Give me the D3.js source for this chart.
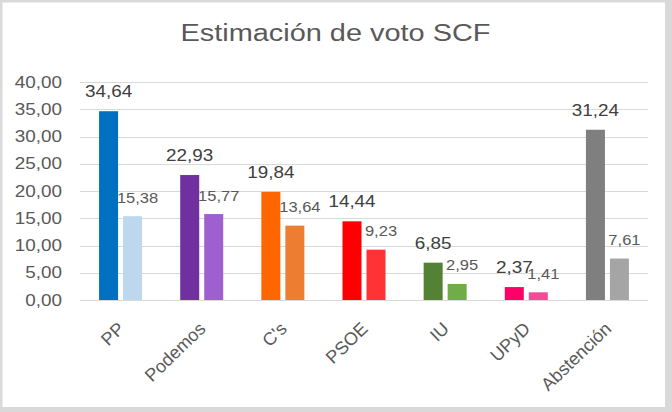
<!DOCTYPE html>
<html>
<head>
<meta charset="utf-8">
<script src="https://cdn.jsdelivr.net/npm/d3@7"></script>
<style>
  body { margin: 0; background: #fff; }
  text { font-family: "Liberation Sans", Arial, sans-serif; }
</style>
</head>
<body>
<script>
var categories = ["PP", "Podemos", "C's", "PSOE", "IU", "UPyD", "Abstención"];
var serieA = [34.64, 22.93, 19.84, 14.44, 6.85, 2.37, 31.24];
var serieB = [15.38, 15.77, 13.64, 9.23, 2.95, 1.41, 7.61];
var coloresA = ["#0070c0", "#7030a0", "#ff6600", "#ff0000", "#548235", "#ff0066", "#7f7f7f"];
var coloresB = ["#bdd7ee", "#9e5fcf", "#ed7d31", "#ff3333", "#70ad47", "#f34b96", "#a5a5a5"];
var yTicks = [0, 5, 10, 15, 20, 25, 30, 35, 40];

var W = 672, H = 412;
var stretch = 1.18; // the original text is a bit wider than tall

var fmt = function(v){ return d3.format(".2f")(v).replace(".", ","); };

var svg = d3.select("body").append("svg").attr("width", W).attr("height", H);

// frame
svg.append("rect").attr("width", W).attr("height", H).attr("fill", "#d9d9d9");
svg.append("rect").attr("x", 2.5).attr("y", 2.5).attr("width", 662.5).attr("height", 404.5).attr("fill", "#fff");

svg.append("text")
  .attr("transform", "translate(335.5,41) scale(" + stretch + ",1)")
  .attr("text-anchor", "middle")
  .attr("font-size", 24.5)
  .attr("fill", "#595959")
  .text("Estimación de voto SCF");

var y = d3.scaleLinear().domain([0, 40]).range([300, 82]);
var x0 = d3.scaleBand().domain(categories).range([80, 648]).paddingInner(0.47).paddingOuter(0.235);
var x1 = d3.scaleBand().domain([0, 1]).range([0, x0.bandwidth()]).paddingInner(5 / 24);

// grid
svg.selectAll("line.grid")
  .data(yTicks)
  .enter().append("line")
    .attr("class", "grid")
    .attr("x1", 80).attr("x2", 648)
    .attr("y1", function(d){ return Math.round(y(d)) + 0.5; })
    .attr("y2", function(d){ return Math.round(y(d)) + 0.5; })
    .attr("stroke", "#d9d9d9")
    .attr("stroke-width", 1);

svg.selectAll("text.ytick")
  .data(yTicks)
  .enter().append("text")
    .attr("class", "ytick")
    .attr("transform", function(d){ return "translate(62," + (y(d) + 5.7) + ") scale(" + stretch + ",1)"; })
    .attr("text-anchor", "end")
    .attr("font-size", 16)
    .attr("fill", "#595959")
    .text(fmt);

// bars
var groups = svg.selectAll("g.grupo")
  .data(categories)
  .enter().append("g")
    .attr("class", "grupo")
    .attr("transform", function(d){ return "translate(" + x0(d) + ",0)"; });

groups.append("rect")
  .attr("x", x1(0))
  .attr("width", x1.bandwidth())
  .attr("y", function(d, i){ return y(serieA[i]); })
  .attr("height", function(d, i){ return y(0) - y(serieA[i]); })
  .attr("fill", function(d, i){ return coloresA[i]; });

groups.append("rect")
  .attr("x", x1(1))
  .attr("width", x1.bandwidth())
  .attr("y", function(d, i){ return y(serieB[i]); })
  .attr("height", function(d, i){ return y(0) - y(serieB[i]); })
  .attr("fill", function(d, i){ return coloresB[i]; });

// data labels
groups.append("text")
  .attr("transform", function(d, i){
    return "translate(" + (x1(0) + x1.bandwidth() / 2) + "," + (y(serieA[i]) - 14) + ") scale(" + stretch + ",1)";
  })
  .attr("text-anchor", "middle")
  .attr("font-size", 16)
  .attr("fill", "#404040")
  .text(function(d, i){ return fmt(serieA[i]); });

groups.append("text")
  .attr("transform", function(d, i){
    return "translate(" + (x1(1) + x1.bandwidth() / 2 + 5) + "," + (y(serieB[i]) - 13.5) + ") scale(" + stretch + ",1)";
  })
  .attr("text-anchor", "middle")
  .attr("font-size", 14)
  .attr("fill", "#595959")
  .text(function(d, i){ return fmt(serieB[i]); });

// category labels
svg.selectAll("text.cat")
  .data(categories)
  .enter().append("text")
    .attr("class", "cat")
    .attr("transform", function(d){
      return "translate(" + (x0(d) + x0.bandwidth() / 2 + 5) + ",330) rotate(-44)";
    })
    .attr("text-anchor", "end")
    .attr("font-size", 18)
    .attr("fill", "#595959")
    .text(function(d){ return d; });
</script>
</body>
</html>
